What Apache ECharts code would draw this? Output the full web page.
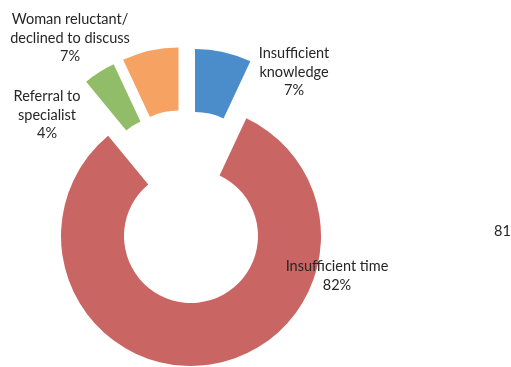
<!DOCTYPE html>
<html><head><meta charset="utf-8">
<script src="https://cdn.jsdelivr.net/npm/echarts@6/dist/echarts.min.js"></script>
<style>html,body{margin:0;padding:0;background:#fff}#c{width:511px;height:367px}</style>
</head><body><div id="c"></div>
<script>
// Data
const categories = ['Insufficient knowledge', 'Insufficient time', 'Referral to specialist', 'Woman reluctant/declined to discuss'];
const labelText = ['Insufficient\nknowledge', 'Insufficient time', 'Referral to\nspecialist', 'Woman reluctant/\ndeclined to discuss'];
const values = [7, 82, 4, 7];
const extraText = '81';

// Styles / layout
const colors = ['#4B8CCB', '#C96663', '#92BD68', '#F6A263'];
const ringCenter = [191, 236];
const explodeShift = [[4, -57], [0, 0], [-22, -54], [-12.5, -58.5]];
const labelPos = [[294, 72], [337, 276], [47, 115], [70, 38]];

const chart = echarts.init(document.getElementById('c'), null, {renderer: 'canvas'});
const series = categories.map((cat, i) => ({
  type: 'pie',
  silent: true,
  startAngle: 90,
  clockwise: true,
  radius: [67, 130],
  center: [ringCenter[0] + explodeShift[i][0], ringCenter[1] + explodeShift[i][1]],
  avoidLabelOverlap: false,
  animation: false,
  emphasis: {disabled: true},
  labelLine: {show: false},
  label: {
    show: true,
    position: 'outside',
    formatter: p => labelText[p.dataIndex] + '\n' + p.value + '%',
    fontFamily: 'Lato',
    fontSize: 14.5,
    lineHeight: 18.5,
    color: '#262626',
    align: 'center'
  },
  labelLayout: p => ({x: labelPos[p.dataIndex][0], y: labelPos[p.dataIndex][1], align: 'center', verticalAlign: 'middle'}),
  data: values.map((v, j) => ({
    value: v,
    name: categories[j],
    itemStyle: {color: j === i ? colors[j] : 'rgba(0,0,0,0)'},
    label: {show: j === i}
  }))
}));

chart.setOption({
  backgroundColor: '#ffffff',
  graphic: [{
    type: 'text', left: 494, top: 224,
    style: {text: extraText, fontFamily: 'Lato', fontSize: 14.5, fill: '#262626'}
  }],
  series: series
});
</script></body></html>
